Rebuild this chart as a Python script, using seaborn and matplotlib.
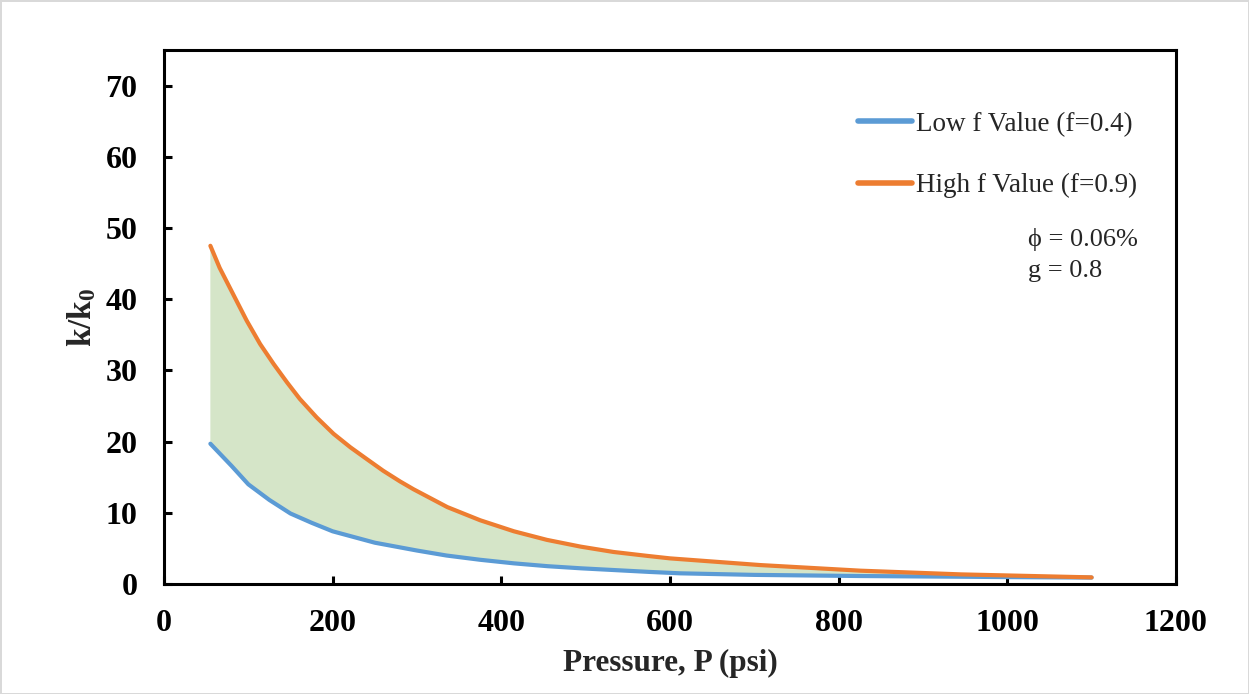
import numpy as np
import pandas as pd
import matplotlib
matplotlib.use("Agg")
import matplotlib.pyplot as plt
import seaborn as sns

# Data
pressure_low = [55, 80, 100, 125, 150, 175, 200, 225, 250, 300, 335, 375, 415,
                455, 495, 535, 575, 612, 700, 826, 945, 1000, 1100]
low_f = [19.7, 16.6, 14.0, 11.8, 9.9, 8.6, 7.4, 6.6, 5.8, 4.7, 4.0, 3.4, 2.9,
         2.5, 2.2, 1.95, 1.7, 1.5, 1.28, 1.12, 1.02, 0.97, 0.9]
pressure_high = [55, 66, 82, 98, 114, 130, 146, 161, 181, 201, 221, 241, 260,
                 280, 296, 336, 375, 415, 454, 494, 533, 573, 600, 707, 826,
                 945, 1100]
high_f = [47.5, 44.4, 40.7, 37.0, 33.7, 30.9, 28.3, 26.0, 23.4, 21.1, 19.2,
          17.5, 15.9, 14.4, 13.3, 10.8, 8.95, 7.4, 6.2, 5.25, 4.5, 3.95, 3.6,
          2.66, 1.87, 1.35, 0.93]
series_labels = ["Low f Value (f=0.4)", "High f Value (f=0.9)"]
x_ticks = [0, 200, 400, 600, 800, 1000, 1200]
y_ticks = [0, 10, 20, 30, 40, 50, 60, 70]

sns.set_theme(style="white")
plt.rcParams['font.family'] = ['Liberation Serif', 'DejaVu Serif']
plt.rcParams['mathtext.fontset'] = 'custom'
plt.rcParams['mathtext.rm'] = 'Liberation Serif'
plt.rcParams['mathtext.bf'] = 'Liberation Serif:bold'
plt.rcParams['mathtext.it'] = 'Liberation Serif:italic'

df = pd.DataFrame({
    "P": pressure_low + pressure_high,
    "k": low_f + high_f,
    "series": [series_labels[0]] * len(pressure_low)
              + [series_labels[1]] * len(pressure_high),
})

fig = plt.figure(figsize=(12.49, 6.94), dpi=100)
fig.patch.set_edgecolor('#D9D9D9')
fig.patch.set_linewidth(2)
ax = fig.add_axes([0.1313, 0.1585, 0.8102, 0.7695])

# shaded band between the two curves
poly_x = list(pressure_high) + list(pressure_low[::-1])
poly_y = list(high_f) + list(low_f[::-1])
ax.fill(poly_x, poly_y, color='#D5E5C8', linewidth=0, zorder=1)

sns.lineplot(data=df, x="P", y="k", hue="series",
             palette=['#5B9BD5', '#ED7D31'], linewidth=3.0, ax=ax,
             zorder=3, sort=False)
for ln in ax.lines:
    ln.set_solid_capstyle('round')
    ln.set_solid_joinstyle('round')

ax.set_xlim(0, 1200)
ax.set_ylim(0, 75)
ax.set_xticks(x_ticks)
ax.set_yticks(y_ticks)
ax.set_xticklabels([str(t) for t in x_ticks], fontsize=23, fontweight='bold')
ax.set_yticklabels([str(t) for t in y_ticks], fontsize=23, fontweight='bold')
ax.tick_params(axis='x', direction='in', length=6, width=2.2, pad=18, colors='black')
ax.tick_params(axis='y', direction='in', length=6, width=2.2, pad=19, colors='black')
ax.tick_params(bottom=True, left=True)
for s in ax.spines.values():
    s.set_linewidth(2.2)
    s.set_color('black')

ax.set_xlabel("Pressure, P (psi)", fontsize=22.5, fontweight='bold', labelpad=8)
ax.set_ylabel(r"$\mathbf{k/k_0}$", fontsize=24, labelpad=5)

leg = ax.legend(loc='upper left', bbox_to_anchor=(0.686, 0.884), frameon=False,
                fontsize=19.5, handlelength=2.0, handletextpad=0.15,
                labelspacing=1.33, borderaxespad=0, borderpad=0)
for h in leg.get_lines():
    h.set_linewidth(4)
    h.set_solid_capstyle('round')

ax.text(0.854, 0.666, "\u03d5 = 0.06%\ng = 0.8", transform=ax.transAxes,
        fontsize=19, ha='left', va='top', linespacing=1.5,
        family=['Liberation Serif', 'DejaVu Serif'])

fig.savefig("out.png", dpi=100, edgecolor=fig.get_edgecolor())
